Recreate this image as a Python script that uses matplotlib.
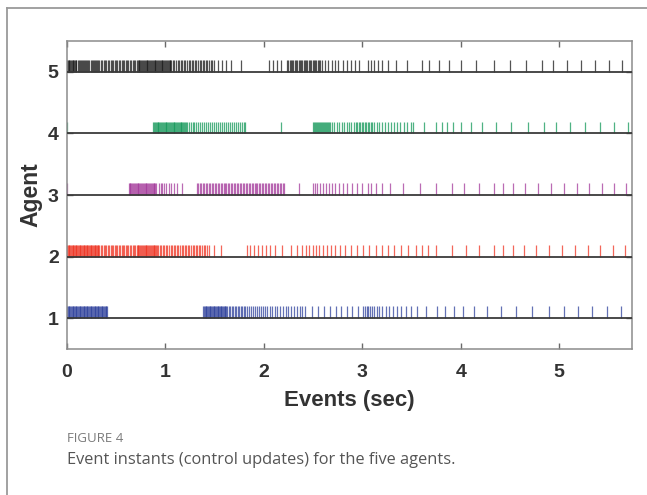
import matplotlib.pyplot as plt
from matplotlib.lines import Line2D

# event instants (sec), one list per agent
agent1 = [0.000, 0.008, 0.016, 0.024, 0.032, 0.040, 0.048, 0.056, 0.064, 0.072, 0.080, 0.088, 0.096,
          0.104, 0.112, 0.120, 0.128, 0.136, 0.144, 0.152, 0.160, 0.168, 0.176, 0.184, 0.192, 0.200,
          0.208, 0.216, 0.224, 0.232, 0.240, 0.248, 0.256, 0.264, 0.272, 0.280, 0.288, 0.296, 0.304,
          0.312, 0.320, 0.328, 0.336, 0.344, 0.352, 0.360, 0.368, 0.376, 0.384, 0.392, 0.400, 0.408,
          1.385, 1.393, 1.401, 1.409, 1.417, 1.425, 1.433, 1.441, 1.449, 1.457, 1.465, 1.473, 1.481,
          1.489, 1.497, 1.505, 1.513, 1.521, 1.529, 1.537, 1.545, 1.553, 1.561, 1.569, 1.577, 1.585,
          1.593, 1.601, 1.609, 1.617,
          1.630, 1.645, 1.660, 1.675, 1.690, 1.705, 1.720, 1.735, 1.750, 1.765, 1.780, 1.795, 1.810,
          1.830, 1.850, 1.870, 1.890, 1.910, 1.930, 1.950, 1.970, 1.990, 2.010, 2.035, 2.060, 2.085,
          2.110, 2.135, 2.160, 2.190, 2.220, 2.250, 2.280, 2.310, 2.340, 2.370, 2.385, 2.415,
          2.486, 2.547, 2.612, 2.673, 2.730, 2.785, 2.842, 2.900, 2.954, 3.012, 3.029, 3.046, 3.062,
          3.079, 3.097, 3.120, 3.147, 3.174, 3.205, 3.239, 3.272, 3.310, 3.350, 3.394, 3.442, 3.496,
          3.554, 3.649, 3.764, 3.842, 3.934, 4.028, 4.137, 4.265, 4.411, 4.563, 4.729, 4.900, 5.045,
          5.187, 5.336, 5.485, 5.630]

agent2 = [0.000, 0.008, 0.016, 0.024, 0.032, 0.040, 0.048, 0.056, 0.064, 0.072, 0.080, 0.088, 0.096,
          0.104, 0.112, 0.120, 0.128, 0.136, 0.144, 0.152, 0.160, 0.168, 0.176, 0.184, 0.192, 0.200,
          0.208, 0.216, 0.224, 0.232, 0.240, 0.248, 0.256, 0.264, 0.272, 0.280, 0.288, 0.296, 0.304,
          0.312, 0.320,
          0.330, 0.344, 0.358, 0.372, 0.386, 0.400, 0.414, 0.428, 0.442, 0.456, 0.470, 0.484, 0.498,
          0.512, 0.526, 0.540, 0.554, 0.568, 0.582, 0.596, 0.610, 0.624, 0.638, 0.652, 0.666, 0.680,
          0.694,
          0.708, 0.717, 0.726, 0.735, 0.744, 0.753, 0.762, 0.771, 0.780, 0.789, 0.798, 0.807, 0.816,
          0.825, 0.834, 0.843, 0.852, 0.861, 0.870, 0.879, 0.888, 0.897, 0.906, 0.915, 0.924,
          0.940, 0.956, 0.972, 0.988, 1.004, 1.020, 1.036, 1.052, 1.068, 1.084, 1.100, 1.116, 1.132,
          1.148, 1.164, 1.180, 1.196, 1.212, 1.228, 1.244, 1.260, 1.276, 1.292, 1.308, 1.324, 1.340,
          1.356, 1.372, 1.388, 1.404, 1.420, 1.440, 1.490, 1.560,
          1.829, 1.863, 1.897, 1.940, 1.980, 2.020, 2.066, 2.117, 2.185, 2.273, 2.340, 2.385, 2.429,
          2.463, 2.497, 2.530, 2.564, 2.598, 2.639, 2.683, 2.724, 2.774, 2.825, 2.883, 2.944, 3.005,
          3.072, 3.140, 3.198, 3.259, 3.326, 3.394, 3.469, 3.547, 3.604, 3.665, 3.747, 3.909, 4.051,
          4.187, 4.343, 4.428, 4.526, 4.638, 4.763, 4.892, 5.027, 5.163, 5.291, 5.419, 5.542, 5.665]

agent3 = [0.004,
          0.627, 0.636, 0.645, 0.654, 0.663, 0.672, 0.681, 0.690, 0.699, 0.708, 0.717, 0.726, 0.735,
          0.744, 0.753, 0.762, 0.771, 0.780, 0.789, 0.798, 0.807, 0.816, 0.825, 0.834, 0.843, 0.852,
          0.861, 0.870, 0.879, 0.888, 0.897, 0.906,
          0.930, 0.950, 0.970, 0.990, 1.010, 1.035, 1.060, 1.090, 1.120, 1.170,
          1.320, 1.335, 1.350, 1.365, 1.380, 1.395, 1.410, 1.425, 1.440, 1.455, 1.470, 1.485, 1.500,
          1.515, 1.530, 1.545, 1.560, 1.575, 1.590, 1.605, 1.620, 1.635, 1.650, 1.665, 1.680, 1.695,
          1.710, 1.725, 1.740, 1.755, 1.770, 1.785, 1.800, 1.815, 1.830, 1.845, 1.860, 1.875, 1.890,
          1.905, 1.920, 1.935, 1.950, 1.965, 1.980, 1.995, 2.010, 2.025, 2.040, 2.055, 2.070, 2.085,
          2.100, 2.115, 2.130, 2.145, 2.160, 2.175, 2.190, 2.205, 2.360,
          2.497, 2.520, 2.544, 2.571, 2.598, 2.629, 2.659, 2.690, 2.724, 2.764, 2.800, 2.842, 2.893,
          2.944, 2.995, 3.056, 3.093, 3.140, 3.198, 3.280, 3.410, 3.587, 3.747, 3.910, 4.035, 4.190,
          4.343, 4.428, 4.529, 4.651, 4.783, 4.919, 5.054, 5.180, 5.305, 5.434, 5.556, 5.678]

agent4 = [0.004,
          0.875, 0.884, 0.893, 0.902, 0.911, 0.920, 0.929, 0.938, 0.947, 0.956, 0.965, 0.974, 0.983,
          0.992, 1.001, 1.010, 1.019, 1.028, 1.037, 1.046, 1.055, 1.064, 1.073, 1.082, 1.091, 1.100,
          1.109, 1.118, 1.127, 1.136, 1.145, 1.154, 1.163, 1.172, 1.181, 1.190, 1.199, 1.208, 1.217,
          1.235, 1.255, 1.275, 1.295, 1.315, 1.335, 1.355, 1.375, 1.395, 1.415, 1.435, 1.455, 1.475,
          1.495, 1.515, 1.535, 1.555, 1.575, 1.595, 1.615, 1.635, 1.655, 1.675, 1.695, 1.715, 1.735,
          1.755, 1.775, 1.795, 1.812, 2.175,
          2.500, 2.510, 2.520, 2.530, 2.540, 2.550, 2.560, 2.570, 2.580, 2.590, 2.600, 2.610, 2.620,
          2.630, 2.640, 2.650, 2.660, 2.670,
          2.690, 2.715, 2.740, 2.765, 2.790, 2.815, 2.840, 2.865, 2.890, 2.915, 2.935, 2.950, 2.965,
          2.980, 2.995, 3.010, 3.025, 3.040, 3.055, 3.070, 3.085, 3.100, 3.120, 3.145, 3.170, 3.200,
          3.230, 3.260, 3.290, 3.320, 3.350, 3.385, 3.420, 3.455, 3.490, 3.520,
          3.630, 3.750, 3.810, 3.860, 3.920, 4.000, 4.100, 4.220, 4.360, 4.510, 4.680, 4.850, 4.970,
          5.110, 5.260, 5.410, 5.560, 5.700]

agent5 = [0.000, 0.008, 0.016, 0.024, 0.032, 0.040, 0.048, 0.056, 0.064, 0.072, 0.080, 0.088, 0.096,
          0.107, 0.118, 0.129, 0.140, 0.151, 0.162, 0.173, 0.184, 0.195, 0.206, 0.217, 0.228, 0.239,
          0.250, 0.261, 0.272, 0.283, 0.294, 0.305, 0.316,
          0.330, 0.344, 0.358, 0.372, 0.386, 0.400, 0.414, 0.428, 0.442, 0.456, 0.470, 0.484, 0.498,
          0.512, 0.526, 0.540, 0.554, 0.568, 0.582, 0.596, 0.610, 0.624, 0.638, 0.652, 0.666, 0.680,
          0.694, 0.708,
          0.718, 0.727, 0.736, 0.745, 0.754, 0.763, 0.772, 0.781, 0.790, 0.799, 0.808, 0.817, 0.826,
          0.835, 0.844, 0.853, 0.862, 0.871, 0.880, 0.889, 0.898, 0.907, 0.916, 0.925, 0.934, 0.943,
          0.952, 0.961, 0.970, 0.979, 0.988, 0.997, 1.006, 1.015, 1.024, 1.033, 1.042, 1.051, 1.060,
          1.075, 1.091, 1.107, 1.123, 1.139, 1.155, 1.171, 1.187, 1.203, 1.219, 1.235, 1.251, 1.267,
          1.283, 1.299, 1.315, 1.331, 1.347, 1.363, 1.379, 1.395, 1.411, 1.427, 1.443, 1.459, 1.475,
          1.495, 1.535, 1.575, 1.620, 1.670, 1.770, 2.056, 2.090, 2.134, 2.178,
          2.235, 2.248, 2.261, 2.274, 2.287, 2.300, 2.313, 2.326, 2.339, 2.352, 2.365, 2.378, 2.391,
          2.404, 2.417, 2.430, 2.443, 2.456, 2.469, 2.482, 2.495, 2.508, 2.521, 2.534, 2.547, 2.560,
          2.573, 2.590,
          2.622, 2.656, 2.690, 2.724, 2.757, 2.800, 2.840, 2.886, 2.927, 2.967, 3.056, 3.089, 3.123,
          3.157, 3.198, 3.266, 3.344, 3.452, 3.604, 3.682, 3.784, 3.876, 4.001, 4.157, 4.333, 4.502,
          4.662, 4.824, 4.942, 5.078, 5.224, 5.366, 5.508, 5.637]

agents = [1, 2, 3, 4, 5]
events = [agent1, agent2, agent3, agent4, agent5]
colors = ['#2f419c', '#ef3322', '#a3399b', '#14985a', '#1a1a1a']

fig = plt.figure(figsize=(6.47, 4.95), dpi=100)
ax = fig.add_axes([67 / 647, 1 - 349 / 495, 565 / 647, 308 / 495])

tick_h = 0.19
ax.eventplot(events, lineoffsets=[a + tick_h / 2 for a in agents], linelengths=tick_h,
             colors=colors, linewidths=0.9, alpha=0.75)
for a in agents:
    ax.axhline(a, color='#3a3a3a', lw=1.3, zorder=3)

ax.set_xlim(0, 5.74)
ax.set_ylim(0.5, 5.5)
ax.set_xticks([0, 1, 2, 3, 4, 5])
ax.set_yticks(agents)
for s in ax.spines.values():
    s.set_color('#8c8c8c')
    s.set_linewidth(1.1)
ax.tick_params(direction='in', length=4, width=1, color='#6a6a6a', top=True, right=True,
               labelsize=14, labelcolor='#333333')
ax.tick_params(axis='x', pad=11)
ax.tick_params(axis='y', pad=6)
for lab in ax.get_xticklabels() + ax.get_yticklabels():
    lab.set_fontweight('bold')
    lab.set_family('Liberation Sans')

ax.set_xlabel('Events (sec)', fontsize=16, fontweight='bold', family='Liberation Sans',
              color='#333333', labelpad=6)
ax.set_ylabel('Agent', fontsize=16.5, fontweight='bold', family='Liberation Sans',
              color='#333333', labelpad=4)

# outer frame of the figure panel
fig.add_artist(Line2D([7 / 647, 7 / 647], [0, 1 - 8 / 495], transform=fig.transFigure,
                      color='#9a9a9a', lw=1.3))
fig.add_artist(Line2D([7 / 647, 1], [1 - 8 / 495, 1 - 8 / 495], transform=fig.transFigure,
                      color='#9a9a9a', lw=1.3))

fig.text(67 / 647, 1 - 438 / 495, 'FIGURE 4', fontsize=9.5, color='#7a7a7a', family='Open Sans',
         va='center')
fig.text(67 / 647, 1 - 460 / 495, 'Event instants (control updates) for the five agents.',
         fontsize=11.8, color='#555555', family='Open Sans', va='center')

plt.savefig('out.png', dpi=100)
plt.close(fig)
